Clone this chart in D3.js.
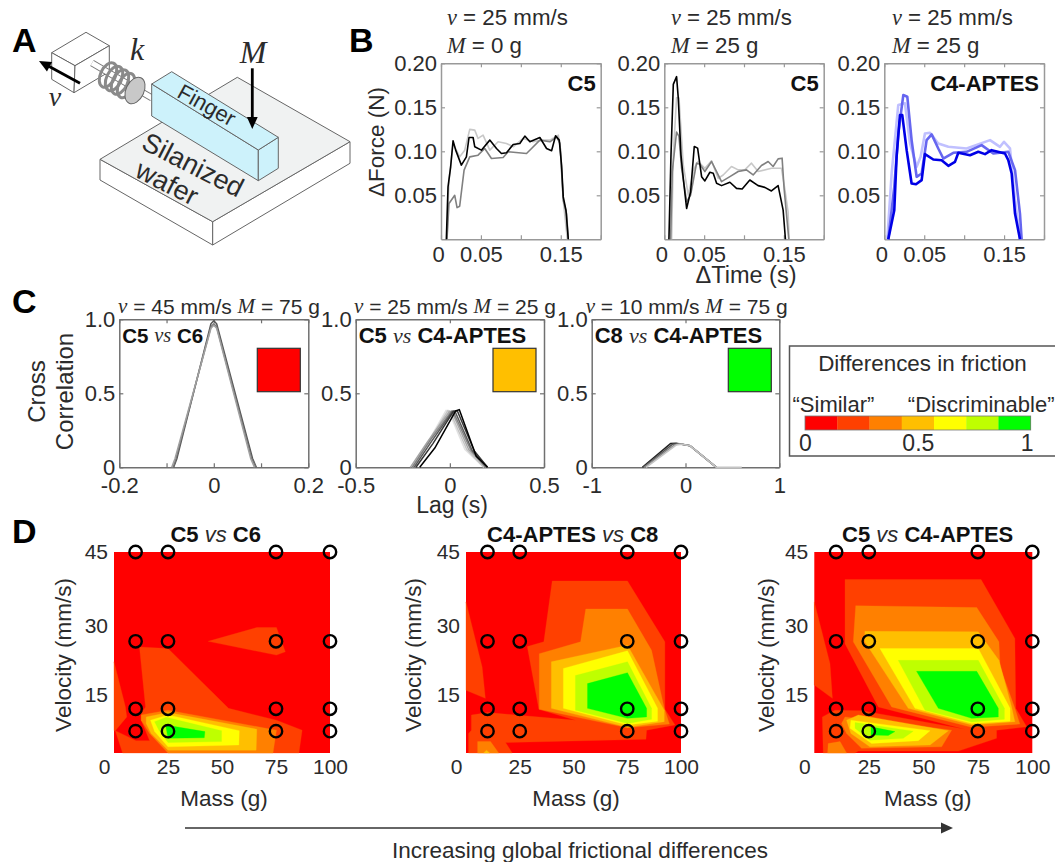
<!DOCTYPE html>
<html>
<head>
<meta charset="utf-8">
<script src="https://cdn.jsdelivr.net/npm/d3@7"></script>
<style>
  html, body { margin: 0; padding: 0; background: #fff; }
  svg { display: block; }
  text { font-family: "Liberation Sans", Arial, sans-serif; }
  .it { font-family: "Liberation Serif", serif; font-style: italic; }
</style>
</head>
<body>
<div id="chart"></div>
<script>
// Panel B: force traces, [time (s), force (N)]
var bBlack1 = [[.0067,0],[.0088,.0596],[.0121,.0824],[.0151,.112],[.0184,.1013],[.0255,.0843],[.0318,.0937],[.0351,.1157],[.0402,.1157],[.0423,.1051],[.0506,.1013],[.0611,.1127],[.0695,.1032],[.0757,.0975],[.082,.0983],[.0904,.1078],[.0987,.1089],[.105,.1173],[.1113,.1108],[.1238,.1157],[.1322,.1032],[.1385,.1006],[.1435,.1176],[.1481,.1127],[.151,.0842],[.1531,.0482],[.1565,.033],[.1594,0]];
var bGray1 = [[.0075,0],[.01,.0406],[.0172,.05],[.0201,.036],[.0234,.0376],[.0289,.0786],[.036,.0937],[.0464,.0956],[.0548,.1032],[.0632,.0918],[.0778,.093],[.0841,.0994],[.1071,.0975],[.1134,.1032],[.1238,.1127],[.1364,.1108],[.1448,.1165],[.149,.1089],[.1531,.0444],[.1573,.0292],[.1594,0]];
var bLight1 = [[.0075,0],[.01,.0672],[.0151,.1089],[.0234,.0937],[.0297,.1013],[.036,.1249],[.0423,.1241],[.0464,.1146],[.0527,.1184],[.0611,.1013],[.0715,.1108],[.082,.1089],[.0904,.1051],[.1029,.1146],[.1155,.1108],[.1259,.1127],[.1364,.1127],[.1469,.1184],[.1498,.1013],[.1531,.0444],[.1582,0]];
var bBlack2 = [[.0058,0],[.0084,.096],[.0113,.176],[.0154,.1848],[.0175,.1608],[.0209,.096],[.0238,.0693],[.028,.035],[.033,.0541],[.0376,.1055],[.0418,.1036],[.0468,.0712],[.0509,.0663],[.0572,.0762],[.0614,.075],[.0656,.0636],[.0718,.061],[.0823,.0648],[.0906,.0579],[.0977,.0571],[.1073,.0674],[.1177,.061],[.1261,.059],[.1344,.0549],[.1428,.061],[.1491,.0331],[.152,0]];
var bGray2 = [[.0079,0],[.01,.077],[.0154,.1219],[.0184,.117],[.0217,.0808],[.028,.0427],[.033,.0503],[.0405,.0865],[.0447,.0853],[.0509,.077],[.0593,.0884],[.0656,.077],[.0718,.0655],[.0823,.0712],[.0927,.077],[.1031,.0789],[.1115,.0731],[.1219,.0838],[.1303,.0884],[.1365,.0827],[.1428,.0914],[.1478,.0922],[.1503,.0579],[.1562,0]];
var bLight2 = [[.0092,0],[.0113,.096],[.0154,.1608],[.0184,.1608],[.0238,.0846],[.0301,.0503],[.0376,.0808],[.0426,.0884],[.0509,.0808],[.0593,.0891],[.0676,.0693],[.0739,.0731],[.0843,.0827],[.0927,.0789],[.101,.0789],[.1094,.0865],[.1177,.077],[.1344,.0808],[.147,.0808],[.1511,.0579],[.1553,.0312],[.1566,0]];
var bDark3 = [[.005,0],[.0125,.033],[.0154,.0937],[.0196,.1412],[.0225,.1412],[.028,.1013],[.0342,.0634],[.0397,.0626],[.0468,.0672],[.0509,.0968],[.0614,.0907],[.0718,.0899],[.0802,.0835],[.0885,.088],[.0927,.0983],[.1073,.0956],[.1177,.0994],[.1261,.0968],[.1344,.1013],[.1511,.0975],[.1553,.0899],[.1595,.0748],[.1637,.0292],[.1699,0]];
var bMid3 = [[.005,0],[.0125,.0596],[.0175,.1203],[.0238,.1639],[.0288,.162],[.0342,.1127],[.0405,.071],[.0468,.0748],[.053,.1127],[.0593,.1192],[.0676,.1032],[.0739,.0918],[.0864,.0983],[.1031,.0994],[.1219,.107],[.1365,.0975],[.1553,.0994],[.1637,.0786],[.1699,.0292],[.172,0]];
var bLight3 = [[.0038,0],[.0092,.0748],[.0175,.1526],[.0259,.1545],[.0322,.1089],[.0405,.0824],[.0455,.0937],[.0509,.1203],[.0572,.1211],[.0676,.1089],[.0802,.1051],[.1031,.1032],[.1324,.1127],[.1449,.1051],[.1499,.1108],[.1574,.1032],[.1637,.0444],[.17,0]];

// Panel C: cross correlation traces, [lag (s), value]
var cTraces1 = [
  [[-.085,0],[-.078,.06],[-.006,.97],[0,.99],[.006,.97],[.082,.06],[.09,0]],
  [[-.086,0],[-.08,.06],[-.006,.95],[0,.97],[.006,.95],[.08,.06],[.089,0]],
  [[-.089,0],[-.082,.06],[-.006,.94],[0,.96],[.006,.94],[.078,.06],[.086,0]]
];
var cTraces2 = [
  [[-.19,0],[-.13,.14],[-.02,.385],[0,.36],[.08,.12],[.18,0]],
  [[-.2,0],[-.12,.16],[-.01,.385],[.01,.35],[.09,.12],[.18,0]],
  [[-.21,0],[-.12,.17],[0,.38],[.02,.35],[.1,.12],[.19,0]],
  [[-.2,0],[-.1,.19],[.01,.38],[.02,.37],[.11,.12],[.19,0]],
  [[-.19,0],[-.1,.17],[.015,.38],[.03,.37],[.12,.11],[.2,0]],
  [[-.18,0],[-.09,.16],[.02,.38],[.04,.38],[.13,.11],[.2,0]],
  [[-.16,0],[-.08,.13],[.03,.38],[.05,.39],[.14,.075],[.2,0]]
];
var cTraces3 = [
  [[-.46,0],[-.16,.16],[-.1,.162],[.05,.145],[.33,0]],
  [[-.45,0],[-.14,.155],[-.08,.16],[.05,.145],[.33,0]],
  [[-.44,0],[-.12,.15],[-.06,.16],[.05,.145],[.33,0]],
  [[-.42,0],[-.1,.15],[-.04,.155],[.05,.145],[.33,0],[.6,0]]
];

// Friction difference levels
var frictionColors = ["#ff0000", "#ff4000", "#ff8000", "#ffbf00", "#ffff00", "#bfff00", "#00ff00"];
var frictionTicks = [0, 0.5, 1];

// Panel D: measured grid
var massValues = [10, 25, 75, 100];
var velocityValues = [45, 26.2, 12, 7.3];
var massTicks = [0, 25, 50, 75, 100];
var velocityTicks = [15, 30, 45];

// Panel D: filled contour bands, [level, [[mass, velocity], ...]]
var bandsC5C6 = [
  [1, [[0,21.9],[5.3,12.4],[5.9,10.3],[.6,7.4],[0,7.4]]],
  [1, [[.6,7.4],[4,2.7],[85.6,2.7],[87.1,7.5],[75.2,9.6],[53,12.1],[25,24.7],[11.8,25],[14.6,12.4],[12.6,11],[12.6,9.6],[16.5,5.3],[10.2,5.3]]],
  [1, [[43.6,26.2],[66.1,29.1],[75.2,29.1],[79.3,24],[75.2,23.3]]],
  [2, [[12.6,10.7],[25,11.7],[75.2,7.5],[73.6,2.7],[25,2.7],[16.5,6.8],[12.6,9.6]]],
  [3, [[14.9,10.3],[25,11.2],[66.1,7.7],[65.8,3.3],[25,3.3],[17.2,6.8],[14.9,8.9]]],
  [4, [[16.9,9.6],[25,10.7],[58,7.4],[57.8,4.4],[25,4],[18.8,7.2]]],
  [5, [[18.8,9.3],[24.2,10.2],[49.8,7.4],[49.8,5.1],[25,4.9],[20.8,7.5]]],
  [6, [[23.9,8.6],[42.1,7.2],[41.8,5.9],[25,5.8]]]
];
var bandsC4C8 = [
  [1, [[0,34.5],[7.5,20.8],[9,14.2],[0,15.9]]],
  [1, [[40.1,38.9],[75.1,38.9],[92.5,26.1],[92.5,11.9],[97.2,8.6],[84,7.5],[83.7,5.6],[18.4,4.9],[21.5,2.7],[1.2,2.7],[1.2,6.8],[2.5,7.5],[2.5,10.7],[10.1,11.2],[51,9.6],[33.9,11.9],[28.5,25.1],[36.2,26.1]]],
  [2, [[34.1,23.6],[53.3,26.1],[55.7,33],[75.1,33],[86.3,24.3],[92.2,12.1],[94.6,8.8],[75.1,8],[34.1,11.9]]],
  [2, [[5.4,5.1],[11.4,5.1],[15.2,2.7],[5.4,2.7]]],
  [3, [[9.5,3.3],[11,2.7],[8.2,2.7]]],
  [3, [[39.7,21.9],[75.1,25.4],[92.2,11.7],[92.2,9.3],[75.1,8.1],[39.7,12.1]]],
  [4, [[45.3,20.5],[75.1,24.2],[89.1,12.1],[89.1,9.4],[75.1,8.6],[45.3,12.1]]],
  [5, [[50.9,19],[75.1,21.9],[86.3,12.1],[86.3,9.8],[75.1,8.9],[50.9,11.7]]],
  [6, [[56.5,17.3],[75.1,19.6],[84,12.1],[84,10.3],[75.1,10],[56.5,12.1]]]
];
var bandsC5C4 = [
  [1, [[0,34.5],[7.2,21.5],[8.3,14.2],[0,17]]],
  [1, [[14.1,39.2],[76.5,39.2],[92,26.8],[92.4,12.1],[97.4,8.2],[83.6,7.5],[83.6,5.8],[66.1,3.1],[20.2,3.1],[18.7,2.7],[4.1,2.7],[3.7,10.3],[9.5,11.7],[21.7,11.6],[69.1,7.7],[29.4,12.4],[14.1,25.7]]],
  [2, [[19,33.7],[74.5,33.3],[84.7,26.1],[85.2,20.8],[92,12.1],[94.3,8.8],[72.2,8.1],[35.5,12.4],[17.9,26.1]]],
  [2, [[12.5,8.9],[14.1,10.3],[63,7.5],[58.4,4],[21.7,3.7],[14.8,6.8]]],
  [2, [[6.4,4.7],[11.8,5.1],[14.8,2.7],[6.1,2.7]]],
  [3, [[23.2,28.3],[75.2,28.2],[84.7,22.2],[90.5,12.4],[92,9.3],[72.2,8.6],[43.1,12.1],[23.2,26.1]]],
  [3, [[14.8,9.6],[20.2,10.7],[61.5,7.4],[53.1,4.4],[25.5,4],[16.8,6.8]]],
  [4, [[30.1,24.7],[75.2,24.7],[89.8,12.1],[89.8,9.4],[72.2,8.9],[46.2,12.1]]],
  [4, [[16.8,9.6],[53.1,7.4],[47.7,5.3],[26.3,4.7],[16.4,7.9]]],
  [5, [[38.5,22.2],[75.2,22.2],[87.2,12.1],[87.2,9.8],[72.2,9.2],[50.8,11.7]]],
  [5, [[18.7,9.1],[45.4,7.3],[40.8,5.8],[25.5,5.4],[18.7,7.9]]],
  [6, [[46.9,19.9],[74.5,19.9],[84.4,12.1],[84.4,10.3],[72.2,10],[56.9,12.1]]],
  [6, [[26,8.2],[37,7.2],[33.9,6.4],[26,6.5]]]
];

var svg = d3.select("#chart").append("svg").attr("width", 1055).attr("height", 862);
var textColor = "#2b2b2b";

// Writes one line of text built from [string, style] parts
function rich(x, y, parts, size, anchor) {
  var t = svg.append("text").attr("x", x).attr("y", y)
    .attr("font-size", size).attr("fill", textColor)
    .attr("text-anchor", anchor || "start").attr("dominant-baseline", "central");
  parts.forEach(function(p) {
    var s = t.append("tspan").text(p[0]);
    if (p[1] === "i") s.attr("class", "it");
    if (p[1] === "b") s.attr("font-weight", "bold").attr("fill", "#111");
    if (p[1] === "o") s.attr("font-style", "italic");
  });
  return t;
}

function rotated(x, y, str, size) {
  svg.append("text").attr("transform", "translate(" + x + "," + y + ") rotate(-90)")
    .attr("font-size", size).attr("fill", textColor)
    .attr("text-anchor", "middle").attr("dominant-baseline", "central").text(str);
}

function styleAxis(g, lineColor, size) {
  g.selectAll("path").attr("stroke", lineColor).attr("stroke-width", 1.5);
  g.selectAll("line").attr("stroke", lineColor).attr("stroke-width", 1.2);
  g.selectAll("text").attr("fill", textColor).attr("font-size", size)
    .attr("font-family", "Liberation Sans");
}

// Boxed line plot with inward ticks on all four sides
function linePlot(box, xDomain, yDomain, xTicks, yTicks, xFmt, yFmt, lineColor, pad) {
  var x = d3.scaleLinear().domain(xDomain).range([box.left, box.right]);
  var y = d3.scaleLinear().domain(yDomain).range([box.bottom, box.top]);
  var bottom = svg.append("g").attr("transform", "translate(0," + box.bottom + ")")
    .call(d3.axisBottom(x).tickValues(xTicks).tickSizeInner(-4).tickSizeOuter(0).tickPadding(pad).tickFormat(xFmt));
  var left = svg.append("g").attr("transform", "translate(" + box.left + ",0)")
    .call(d3.axisLeft(y).tickValues(yTicks).tickSizeInner(-4).tickSizeOuter(0).tickPadding(4).tickFormat(yFmt));
  var top = svg.append("g").attr("transform", "translate(0," + box.top + ")")
    .call(d3.axisTop(x).tickValues(xTicks).tickSizeInner(-4).tickSizeOuter(0).tickFormat(""));
  var right = svg.append("g").attr("transform", "translate(" + box.right + ",0)")
    .call(d3.axisRight(y).tickValues(yTicks).tickSizeInner(-4).tickSizeOuter(0).tickFormat(""));
  [bottom, left, top, right].forEach(function(g) { styleAxis(g, lineColor, 22); });
  return { x: x, y: y, bottom: bottom };
}

function drawTrace(plot, data, color, width) {
  var line = d3.line().x(function(d) { return plot.x(d[0]); }).y(function(d) { return plot.y(d[1]); });
  svg.append("path").datum(data).attr("d", line)
    .attr("fill", "none").attr("stroke", color).attr("stroke-width", width)
    .attr("stroke-linejoin", "round");
}

// ---------- Panel A: schematic ----------
function poly(points, fill) {
  svg.append("polygon").attr("points", points.join(" "))
    .attr("fill", fill).attr("stroke", "#666").attr("stroke-width", 1).attr("stroke-linejoin", "round");
}
function arrow(x1, y1, x2, y2, color, width, head) {
  var a = Math.atan2(y2 - y1, x2 - x1);
  svg.append("line").attr("x1", x1).attr("y1", y1)
    .attr("x2", x2 - Math.cos(a) * head * 0.8).attr("y2", y2 - Math.sin(a) * head * 0.8)
    .attr("stroke", color).attr("stroke-width", width);
  var p = [[x2, y2],
    [x2 - head * Math.cos(a) + head * .45 * Math.sin(a), y2 - head * Math.sin(a) - head * .45 * Math.cos(a)],
    [x2 - head * Math.cos(a) - head * .45 * Math.sin(a), y2 - head * Math.sin(a) + head * .45 * Math.cos(a)]];
  svg.append("polygon").attr("points", p.join(" ")).attr("fill", color);
}

poly([[100,159.3],[212.7,221.7],[212.7,245],[100,180]], "#fff");
poly([[212.7,221.7],[350,141.7],[350,163.3],[212.7,245]], "#fff");
poly([[237.3,77.3],[350,141.7],[212.7,221.7],[100,159.3]], "#f0f2f2");
poly([[51.7,52.7],[86,32.3],[109.3,45.7],[75,65.7]], "#fff");
poly([[51.7,52.7],[75,65.7],[74,92.7],[51.7,79.3]], "#fff");
poly([[75,65.7],[109.3,45.7],[109.3,71.7],[74,92.7]], "#fff");
svg.append("line").attr("x1", 92).attr("y1", 63).attr("x2", 152).attr("y2", 98).attr("stroke", "#777").attr("stroke-width", 7);
svg.append("line").attr("x1", 92).attr("y1", 63).attr("x2", 152).attr("y2", 98).attr("stroke", "#fff").attr("stroke-width", 5);
// spring coils
[[108,75],[114,78.5],[120,82],[126,85.5]].forEach(function(c) {
  svg.append("ellipse").attr("transform", "translate(" + c[0] + "," + c[1] + ") rotate(25)")
    .attr("rx", 7.5).attr("ry", 13).attr("fill", "none")
    .attr("stroke", "#8a8a8a").attr("stroke-width", 3);
});
svg.append("ellipse").attr("transform", "translate(135,90.5) rotate(25)")
  .attr("rx", 9).attr("ry", 14).attr("fill", "#c8c8c8").attr("stroke", "#666");
poly([[151.7,84],[258.3,150],[258.3,180.7],[151.7,116]], "#cdf2fb");
poly([[258.3,150],[278.3,137.3],[278.3,168.3],[258.3,180.7]], "#cdf2fb");
poly([[151.7,84],[171.7,71.7],[278.3,137.3],[258.3,150]], "#cdf2fb");
arrow(80, 83.3, 39, 61, "#000", 2.8, 12);
arrow(252.3, 68.3, 252.3, 129, "#000", 2.8, 12);

function schematicText(x, y, str, size, angle) {
  svg.append("text").attr("transform", "translate(" + x + "," + y + ") rotate(" + angle + ")")
    .attr("font-size", size).attr("fill", textColor)
    .attr("text-anchor", "middle").attr("dominant-baseline", "central").text(str);
}
schematicText(206.7, 105, "Finger", 22, 29);
schematicText(193, 165, "Silanized", 27, 27);
schematicText(167, 183, "wafer", 27, 27);
rich(55, 96, [["v", "i"]], 28, "middle");
rich(137, 49, [["k", "i"]], 32, "middle");
rich(253, 52, [["M", "i"]], 32, "middle");

// Panel letters
[["A", 12, 40], ["B", 349, 40], ["C", 12, 301], ["D", 12, 531]].forEach(function(d) {
  svg.append("text").attr("x", d[1]).attr("y", d[2]).attr("font-size", 34).attr("font-weight", "bold")
    .attr("fill", "#000").attr("dominant-baseline", "central").text(d[0]);
});

// ---------- Panel B ----------
var bXTicks = [0, .05, .1, .15, .2];
var bYTicks = [.05, .1, .15, .2];
function bXFmt(d) { return d === 0 ? "0" : (d === .05 ? "0.05" : (d === .15 ? "0.15" : "")); }
var bYFmt = d3.format(".2f");
var bPanels = [
  { left: 441, right: 600.7, title: 447, mass: "0", label: "C5", series: [bLight1, bGray1, bBlack1], colors: ["#c8c8c8", "#808080", "#000"], width: 1.6 },
  { left: 664.3, right: 823.7, title: 671, mass: "25", label: "C5", series: [bLight2, bGray2, bBlack2], colors: ["#c8c8c8", "#808080", "#000"], width: 1.6 },
  { left: 884.3, right: 1044, title: 892, mass: "25", label: "C4-APTES", series: [bLight3, bMid3, bDark3], colors: ["#c0c0ff", "#6666f0", "#0000e6"], width: 2.6 }
];
bPanels.forEach(function(p) {
  var plot = linePlot({ left: p.left, right: p.right, top: 63.3, bottom: 239.3 }, [0, .2], [0, .2], bXTicks, bYTicks, bXFmt, bYFmt, "#999", 7);
  plot.bottom.selectAll("text").filter(function(d) { return d === 0; }).attr("dx", -3);
  p.series.forEach(function(s, i) { drawTrace(plot, s, p.colors[i], p.width); });
  rich(p.title, 17, [["v", "i"], [" = 25 mm/s"]], 22.3);
  rich(p.title, 45, [["M", "i"], [" = " + p.mass + " g"]], 22.3);
  rich(p.right - 5, 83, [[p.label, "b"]], 22, "end");
});
rotated(376, 142, "\u0394Force (N)", 22.5);
rich(746, 275, [["\u0394Time (s)"]], 23.5, "middle");

// ---------- Panel C ----------
var cPanels = [
  { left: 119.3, right: 308.3, domain: [-.2, .2], xTicks: [-.2, -.1, 0, .1, .2], title: 118, v: "45", m: "75",
    a: "C5", b: "C6", level: 0, traces: cTraces1, grays: ["#555", "#777", "#a0a0a0"], tag: 20.5 },
  { left: 355.7, right: 544, domain: [-.5, .5], xTicks: [-.5, 0, .5], title: 354, v: "25", m: "25",
    a: "C5", b: "C4-APTES", level: 3, traces: cTraces2, grays: ["#e2e2e2", "#c4c4c4", "#a5a5a5", "#808080", "#5a5a5a", "#363636", "#000"], tag: 22 },
  { left: 591.7, right: 779.3, domain: [-1, 1], xTicks: [-1, 0, 1], title: 585.7, v: "10", m: "75",
    a: "C8", b: "C4-APTES", level: 6, traces: cTraces3, grays: ["#222", "#555", "#888", "#c4c4c4"], tag: 22 }
];
function cXFmt(d) { return (d === .1 || d === -.1) ? "" : String(d); }
function cYFmt(d) { return d === 0 ? "0" : d3.format(".1f")(d); }
cPanels.forEach(function(p) {
  var plot = linePlot({ left: p.left, right: p.right, top: 319.3, bottom: 467.3 }, p.domain, [0, 1], p.xTicks, [0, .5, 1], cXFmt, cYFmt, "#707070", 10);
  p.traces.forEach(function(t, i) { drawTrace(plot, t, p.grays[i], 1.5); });
  rich(p.title, 305.5, [["v", "i"], [" = " + p.v + " mm/s "], ["M", "i"], [" = " + p.m + " g"]], 21);
  rich(p.left + 3, 335, [[p.a, "b"], [" "], ["vs", "i"], [" "], [p.b, "b"]], p.tag);
  svg.append("rect").attr("x", p.right - 51).attr("y", 348.3).attr("width", 43).attr("height", 43.4)
    .attr("fill", frictionColors[p.level]).attr("stroke", "#333").attr("stroke-width", 1.2);
});
rotated(36, 391.5, "Cross", 24);
rotated(64, 391.5, "Correlation", 24);
rich(452, 505, [["Lag (s)"]], 23, "middle");

// Legend
svg.append("rect").attr("x", 789.5).attr("y", 346).attr("width", 270).attr("height", 110)
  .attr("fill", "none").attr("stroke", "#555").attr("stroke-width", 1.5);
rich(922.5, 362.7, [["Differences in friction"]], 22.4, "middle");
rich(792.5, 404, [["\u201cSimilar\u201d"]], 22);
rich(1054.5, 404, [["\u201cDiscriminable\u201d"]], 22, "end");
var legendX = d3.scaleLinear().domain([0, 1]).range([805, 1030.7]);
var legendBand = d3.scaleBand().domain(d3.range(frictionColors.length)).range(legendX.range());
svg.append("g").selectAll("rect").data(frictionColors).join("rect")
  .attr("x", function(d, i) { return legendBand(i); }).attr("y", 416)
  .attr("width", legendBand.bandwidth() + .3).attr("height", 14)
  .attr("fill", function(d) { return d; });
svg.append("rect").attr("x", 805).attr("y", 416).attr("width", 225.7).attr("height", 14)
  .attr("fill", "none").attr("stroke", "#777").attr("stroke-width", .8);
var legendAxis = svg.append("g").attr("transform", "translate(0,430)")
  .call(d3.axisBottom(legendX).tickValues(frictionTicks).tickSize(0).tickPadding(5).tickFormat(String));
legendAxis.select("path").remove();
styleAxis(legendAxis, "#333", 23);
legendAxis.selectAll("text").filter(function(d) { return d === 1; }).attr("dx", -4);

// ---------- Panel D ----------
var dPanels = [
  { left: 114, right: 330, a: "C5", b: "C6", bands: bandsC5C6, title: 215.7, massX: 224, velX: 63 },
  { left: 466, right: 681, a: "C4-APTES", b: "C8", bands: bandsC4C8, title: 572.7, massX: 576, velX: 413 },
  { left: 814.3, right: 1032.3, a: "C5", b: "C4-APTES", bands: bandsC5C4, title: 927.7, massX: 927.7, velX: 766 }
];
dPanels.forEach(function(p) {
  var x = d3.scaleLinear().domain([0, 100]).range([p.left, p.right]);
  var y = d3.scaleLinear().domain([2.7, 45]).range([753, 552]);
  var area = d3.line().x(function(d) { return x(d[0]); }).y(function(d) { return y(d[1]); });

  svg.append("rect").attr("x", p.left).attr("y", y(45)).attr("width", p.right - p.left).attr("height", y(2.7) - y(45))
    .attr("fill", frictionColors[0]);
  svg.append("g").selectAll("path").data(p.bands).join("path")
    .attr("d", function(d) { return area(d[1]) + "Z"; })
    .attr("fill", function(d) { return frictionColors[d[0]]; })
    .attr("stroke", function(d) { return frictionColors[d[0]]; }).attr("stroke-width", .3);

  var xAxis = svg.append("g").attr("transform", "translate(0,753)")
    .call(d3.axisBottom(x).tickValues(massTicks).tickSize(0).tickPadding(6));
  xAxis.select("path").remove();
  styleAxis(xAxis, "#333", 21);
  xAxis.selectAll("text").filter(function(d) { return d === 0; }).attr("dx", -10);
  var yAxis = svg.append("g").attr("transform", "translate(" + p.left + ",0)")
    .call(d3.axisLeft(y).tickValues(velocityTicks).tickSize(0).tickPadding(6));
  yAxis.select("path").remove();
  styleAxis(yAxis, "#333", 21);
  yAxis.selectAll("text").filter(function(d) { return d === 30; }).attr("dy", "0.42em");

  var points = d3.cross(massValues, velocityValues);
  svg.append("g").selectAll("circle").data(points).join("circle")
    .attr("cx", function(d) { return x(d[0]); }).attr("cy", function(d) { return y(d[1]); })
    .attr("r", 6.2).attr("fill", "none").attr("stroke", "#000").attr("stroke-width", 2.4);

  rich(p.title, 534, [[p.a, "b"], [" "], ["vs", "o"], [" "], [p.b, "b"]], 22, "middle");
  rich(p.massX, 798, [["Mass (g)"]], 22.5, "middle");
  rotated(p.velX, 655, "Velocity (mm/s)", 22.5);
});

// Bottom arrow
arrow(185, 828, 953, 828, "#333", 1.5, 12);
rich(580, 850, [["Increasing global frictional differences"]], 22.5, "middle");
</script>
</body>
</html>
